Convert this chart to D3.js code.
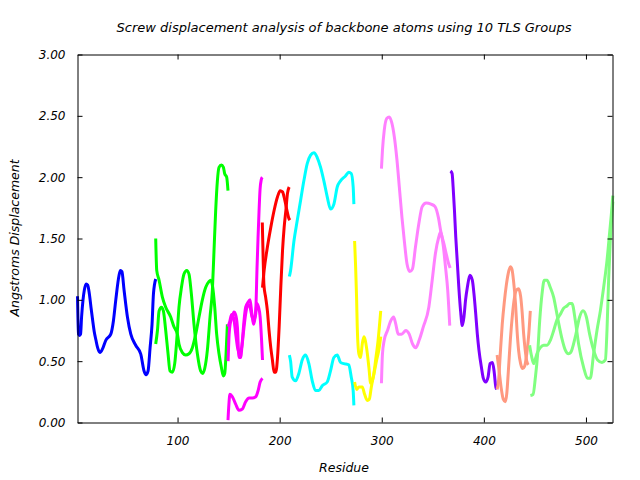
<!DOCTYPE html>
<html>
<head>
<meta charset="utf-8">
<script src="https://cdn.jsdelivr.net/npm/d3@7"></script>
<style>
  html, body { margin: 0; padding: 0; background: #fff; }
  svg { display: block; }
  text { font-family: "DejaVu Sans", sans-serif; font-style: italic; fill: #000; }
</style>
</head>
<body>
<svg id="chart" width="640" height="480"></svg>
<script>
// ---- Data (residue, displacement in Angstroms) ----
const titleText = "Screw displacement analysis of backbone atoms using 10 TLS Groups";
const xLabel = "Residue";
const yLabel = "Angstroms Displacement";
const xTicks = [100, 200, 300, 400, 500];
const yTicks = [0, 0.5, 1.0, 1.5, 2.0, 2.5, 3.0];
const groupColors = ["#0000ff", "#00ff00", "#ff00ff", "#ff0000", "#00ffff",
                     "#ffff00", "#ff80ff", "#8000ff", "#ff9980", "#80ff80"];

const g1a = [[2,1.03],[3,0.72],[4,0.71],[5,0.72],[6,0.86],[7.4,1.00],[8.7,1.08],[10.4,1.13],[12,1.12],[13.6,1.05],[15.2,0.94],[16.9,0.83],[18.4,0.74],[20.1,0.67],[21.7,0.61],[24,0.57],[26.5,0.60],[29.7,0.67],[34.6,0.72],[37.2,0.83],[39.5,1.00],[42.7,1.20],[44,1.24],[45.5,1.23],[47.6,1.08],[50.9,0.86],[54.2,0.72],[59,0.63],[63.9,0.56],[67.2,0.42],[69.1,0.39],[71.1,0.42],[73.1,0.61],[75,0.80],[76.4,1.05],[78.6,1.17]];

const g2a = [[78.6,1.50],[79.6,1.24],[81.9,1.16],[85.2,1.02],[88.4,0.94],[93.3,0.86],[96.5,0.78],[99.8,0.72],[101.4,0.64],[104.7,0.57],[108,0.55],[111.2,0.56],[114.5,0.61],[117.8,0.72],[121,0.86],[124.3,1.00],[127.5,1.10],[130.8,1.15],[132.5,1.16],[134.1,1.12],[136.4,0.94],[138.3,0.72],[140.6,0.56],[142.9,0.45],[144.9,0.38],[146.2,0.40],[147.5,0.56],[148.8,0.80]];
const g2b = [[78.6,0.64],[80.3,0.75],[81.9,0.91],[84.2,0.94],[86.1,0.91],[88.4,0.75],[90.7,0.56],[92.6,0.42],[94.9,0.41],[97.2,0.48],[99.2,0.67],[101.4,0.94],[103.8,1.10],[106.3,1.21],[109,1.24],[111.2,1.21],[113.5,1.05],[116.1,0.80],[119.4,0.56],[122.6,0.42],[124.6,0.40],[126.6,0.44],[129.2,0.59],[131.8,0.86],[134.1,1.08],[135.7,1.40],[137.3,1.72],[139,1.97],[140.6,2.08],[142.9,2.10],[144.9,2.08],[146.1,2.03],[148.1,2.00],[149.4,1.89]];

const g3a = [[149.4,0.02],[150.3,0.15],[151.3,0.23],[153.7,0.21],[156.9,0.15],[160.1,0.10],[163.5,0.11],[166.7,0.17],[170.1,0.20],[173.4,0.20],[176.6,0.21],[178.9,0.26],[180.9,0.33],[183.2,0.36]];
const g3b = [[149.5,0.50],[150.5,0.72],[151.5,0.80],[153.7,0.86],[155.2,0.90],[156.8,0.88],[158.6,0.78],[160.2,0.53],[161.8,0.53],[163.5,0.67],[165.1,0.83],[166.7,0.94],[169,0.98],[171,1.00],[172.7,0.89],[174.4,0.80],[175.9,0.86],[176.8,0.95],[177.8,1.25],[178.8,1.50],[179.8,1.72],[180.8,1.90],[182,1.98],[183,2.00]];
const g3c = [[149.5,0.78],[151,0.82],[153,0.88],[155,0.85],[157,0.72],[159,0.60],[161,0.56],[163,0.62],[165,0.77],[167,0.90],[169,0.96],[171,0.94],[173,0.86],[175,0.84],[176.5,0.88],[177.6,0.97],[179.3,0.94],[180.9,0.86],[182.3,0.67],[183.2,0.51]];

const g4a = [[183,1.63],[183.8,1.35],[184.6,1.12],[186.3,1.02],[188,0.91],[189.6,0.75],[191.3,0.61],[192.9,0.51],[194.6,0.41],[196.2,0.41],[197.9,0.53],[199.5,0.78],[201.1,1.10],[202.8,1.40],[204.4,1.59],[206.1,1.73],[207.7,1.87],[209.3,1.92]];
const g4b = [[183.2,1.10],[184.8,1.24],[188,1.43],[191.3,1.59],[194.6,1.73],[197.9,1.84],[200.5,1.89],[202.8,1.88],[205.1,1.81],[207.1,1.73],[208.8,1.67],[210,1.65]];

const g5a = [[209.5,1.19],[210.7,1.24],[214,1.48],[217.3,1.65],[220.5,1.81],[223.7,1.97],[227,2.11],[230.3,2.18],[233.6,2.20],[236.8,2.16],[240.1,2.08],[243.3,1.97],[246.6,1.84],[249.8,1.74],[253.1,1.78],[256.4,1.92],[259.6,1.97],[264.5,2.01],[267.7,2.04],[270.1,2.03],[272,1.92],[272.7,1.78]];
const g5b = [[209.5,0.55],[210.7,0.50],[212.3,0.37],[215.6,0.34],[218.8,0.40],[222.1,0.51],[225.4,0.55],[228.6,0.48],[231.9,0.34],[235.2,0.26],[238.4,0.26],[241.7,0.30],[246.6,0.33],[249.8,0.42],[253.1,0.53],[256.4,0.55],[259.6,0.49],[262.9,0.48],[267.7,0.47],[270.1,0.37],[272,0.26],[272.7,0.14]];

const g6a = [[273.4,1.48],[274.4,1.27],[275.4,1.00],[276,0.78],[277.6,0.56],[279.3,0.53],[280.9,0.64],[282.5,0.70],[285.1,0.61],[287.4,0.45],[289.1,0.32],[291.7,0.37],[294,0.51],[296.4,0.67],[299,0.91]];
const g6b = [[273.4,0.33],[275.4,0.27],[277.6,0.29],[280.9,0.29],[283.2,0.23],[285.8,0.18],[287.8,0.19],[289.8,0.29],[292.4,0.40],[295,0.51],[297.3,0.60],[299,0.70]];

const g7a = [[299.7,2.07],[300.7,2.22],[302.4,2.38],[305,2.48],[307.3,2.49],[309.6,2.45],[312.3,2.33],[314.9,2.14],[317.2,1.92],[319.8,1.67],[322.1,1.48],[324.8,1.29],[327.5,1.23],[330,1.25],[333,1.43],[336.3,1.62],[339.6,1.76],[343.5,1.79],[348.3,1.78],[352.2,1.76],[355.5,1.67],[358,1.55],[360.8,1.46],[363,1.38],[365.3,1.30],[367,1.26]];
const g7b = [[299.7,0.32],[300.7,0.56],[302.4,0.67],[305.6,0.75],[308.9,0.83],[311.6,0.86],[313.8,0.80],[316.1,0.72],[319.4,0.72],[323.6,0.75],[326.9,0.72],[330.2,0.64],[333.3,0.61],[336.6,0.67],[340.7,0.78],[346.1,0.94],[349.4,1.16],[352.6,1.38],[355.8,1.51],[357.5,1.55],[360.1,1.45],[362.4,1.27],[364.6,1.08],[366.6,0.79]];

const g8a = [[367.3,2.05],[368.9,2.03],[369.9,1.92],[371.2,1.73],[372.5,1.51],[373.9,1.32],[375.5,1.10],[377.2,0.91],[378.9,0.79],[380.5,0.86],[382.1,1.00],[383.8,1.10],[386.3,1.20],[388.7,1.16],[390.3,1.05],[392,0.89],[393.6,0.72],[395.2,0.59],[397.6,0.45],[399.5,0.36],[401.8,0.33],[404.1,0.37],[406.1,0.48],[408.4,0.49],[410,0.42],[411.7,0.29],[412.5,0.27]];

const g9a = [[413,0.27],[414.5,0.35],[416,0.55],[418,0.80],[420,0.98],[422,1.12],[424,1.22],[426,1.27],[427.5,1.25],[429,1.16],[431,0.97],[432.5,0.75],[434,0.59],[436,0.48],[438,0.44],[440,0.46],[442,0.56],[444,0.72],[445.5,0.91]];
const g9b = [[413,0.55],[415,0.42],[417,0.28],[419,0.19],[421,0.17],[422.5,0.24],[424,0.42],[426,0.68],[428,0.88],[430,1.02],[432,1.08],[434,1.09],[436,1.03],[437.5,0.90],[439,0.72],[440.5,0.59],[442,0.50],[443.5,0.47]];

const g10a = [[444.8,0.63],[446.5,0.55],[448.8,0.48],[450.5,0.52],[452,0.56],[455.3,0.61],[458.6,0.63],[461.9,0.63],[465.1,0.67],[468.4,0.75],[471.7,0.84],[474.8,0.88],[478,0.93],[481.3,0.95],[484,0.97],[486.3,0.97],[489.6,0.83],[492.8,0.64],[497.7,0.45],[501.6,0.36],[504.2,0.36],[507.5,0.56],[510.8,0.75],[514.1,0.91],[517.3,1.10],[520.6,1.32],[523.1,1.54],[525.5,1.76],[526.3,1.85]];
const g10b = [[445.6,0.22],[448.2,0.23],[450.5,0.37],[452.7,0.56],[454.7,0.83],[457,1.05],[459.2,1.16],[461.9,1.16],[465.1,1.10],[468.4,1.02],[471,0.91],[473.5,0.80],[476.6,0.68],[479.8,0.59],[483,0.56],[485,0.57],[489.6,0.70],[493.8,0.86],[497.1,0.91],[500.4,0.86],[503.6,0.72],[507.5,0.59],[511.4,0.51],[515.7,0.49],[519,0.51],[520.6,0.75],[522.2,1.16],[523.8,1.48],[525.5,1.70],[526.3,1.80]];

const groups = [[g1a],[g2a,g2b],[g3a,g3b,g3c],[g4a,g4b],[g5a,g5b],[g6a,g6b],[g7a,g7b],[g8a],[g9a,g9b],[g10a,g10b]];

// ---- Layout ----
const svg = d3.select("#chart");
const mLeft = 77, mRight = 612, mTop = 54, mBottom = 422;
const x = d3.scaleLinear().domain([2, 526]).range([mLeft, mRight]);
const y = d3.scaleLinear().domain([0, 3]).range([mBottom, mTop]);

const root = svg.append("g").attr("transform", "translate(0.5,0.5)");

// Data lines
const line = d3.line().x(d => x(d[0])).y(d => y(d[1])).curve(d3.curveMonotoneX);
const plot = root.append("g");
groups.forEach((lines, gi) => {
  lines.forEach(pts => {
    plot.append("path")
      .attr("d", line(pts))
      .attr("fill", "none")
      .attr("stroke", groupColors[gi])
      .attr("stroke-width", 3)
      .attr("stroke-linejoin", "round")
      .attr("stroke-linecap", "butt");
  });
});

// Axes (ticks pointing inward, mirrored)
const fmtY = d3.format(".2f");
const axB = root.append("g").attr("transform", `translate(0,${mBottom})`)
  .call(d3.axisBottom(x).tickValues(xTicks).tickSize(-5).tickSizeOuter(0).tickPadding(14));
const axT = root.append("g").attr("transform", `translate(0,${mTop})`)
  .call(d3.axisTop(x).tickValues(xTicks).tickSize(-5).tickSizeOuter(0).tickFormat(""));
const axL = root.append("g").attr("transform", `translate(${mLeft},0)`)
  .call(d3.axisLeft(y).tickValues(yTicks).tickSize(-5).tickSizeOuter(0).tickPadding(12).tickFormat(fmtY));
const axR = root.append("g").attr("transform", `translate(${mRight},0)`)
  .call(d3.axisRight(y).tickValues(yTicks).tickSize(-5).tickSizeOuter(0).tickFormat(""));

[axB, axT, axL, axR].forEach(a => {
  a.selectAll("path.domain").attr("stroke", "#000").attr("stroke-width", 1);
  a.selectAll(".tick line").attr("stroke", "#000").attr("stroke-width", 1);
  a.selectAll("text").attr("font-family", "DejaVu Sans").attr("font-style", "italic")
    .attr("font-size", 12).attr("fill", "#000");
});

// Titles
svg.append("text").attr("x", 344).attr("y", 32).attr("text-anchor", "middle")
  .attr("font-size", 13).text(titleText);
svg.append("text").attr("x", 344).attr("y", 472).attr("text-anchor", "middle")
  .attr("font-size", 12.5).text(xLabel);
svg.append("text").attr("transform", "translate(19,238) rotate(-90)")
  .attr("text-anchor", "middle").attr("font-size", 12.5).text(yLabel);
</script>
</body>
</html>
